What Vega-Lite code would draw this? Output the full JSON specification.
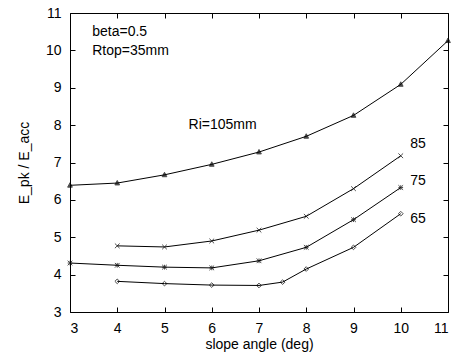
{
  "$schema": "https://vega.github.io/schema/vega-lite/v6.json",
  "autosize": {"type": "none"},
  "padding": {"left": 70, "top": 13, "right": 5, "bottom": 40},
  "width": 378,
  "height": 299,
  "background": "white",
  "config": {
    "font": "Liberation Sans",
    "view": {"stroke": "black", "strokeWidth": 1},
    "axis": {"grid": false, "domainColor": "black", "tickColor": "black", "labelColor": "black", "titleColor": "black", "labelFont": "Liberation Sans", "titleFont": "Liberation Sans", "labelFontSize": 14, "titleFontSize": 14, "titleFontWeight": "normal"}
  },
  "datasets": {
    "curves": [
      {"s": "105", "x": 3, "y": 6.39}, {"s": "105", "x": 4, "y": 6.45}, {"s": "105", "x": 5, "y": 6.67}, {"s": "105", "x": 6, "y": 6.95}, {"s": "105", "x": 7, "y": 7.28}, {"s": "105", "x": 8, "y": 7.70}, {"s": "105", "x": 9, "y": 8.26}, {"s": "105", "x": 10, "y": 9.09}, {"s": "105", "x": 11, "y": 10.26},
      {"s": "85", "x": 4, "y": 4.77}, {"s": "85", "x": 5, "y": 4.74}, {"s": "85", "x": 6, "y": 4.90}, {"s": "85", "x": 7, "y": 5.19}, {"s": "85", "x": 8, "y": 5.56}, {"s": "85", "x": 9, "y": 6.30}, {"s": "85", "x": 10, "y": 7.18},
      {"s": "75", "x": 3, "y": 4.31}, {"s": "75", "x": 4, "y": 4.25}, {"s": "75", "x": 5, "y": 4.20}, {"s": "75", "x": 6, "y": 4.18}, {"s": "75", "x": 7, "y": 4.37}, {"s": "75", "x": 8, "y": 4.73}, {"s": "75", "x": 9, "y": 5.47}, {"s": "75", "x": 10, "y": 6.33},
      {"s": "65", "x": 4, "y": 3.82}, {"s": "65", "x": 5, "y": 3.76}, {"s": "65", "x": 6, "y": 3.72}, {"s": "65", "x": 7, "y": 3.71}, {"s": "65", "x": 7.5, "y": 3.80}, {"s": "65", "x": 8, "y": 4.15}, {"s": "65", "x": 9, "y": 4.73}, {"s": "65", "x": 10, "y": 5.63}
    ],
    "notes": [
      {"x": 3.47, "y": 10.48, "t": "beta=0.5"},
      {"x": 3.47, "y": 9.98, "t": "Rtop=35mm"},
      {"x": 5.51, "y": 8.0, "t": "Ri=105mm"},
      {"x": 10.2, "y": 7.49, "t": "85"},
      {"x": 10.2, "y": 6.5, "t": "75"},
      {"x": 10.2, "y": 5.5, "t": "65"}
    ]
  },
  "layer": [
    {
      "data": {"name": "curves"},
      "mark": {"type": "line", "color": "black", "strokeWidth": 1},
      "encoding": {
        "x": {"field": "x", "type": "quantitative", "scale": {"domain": [3, 11], "nice": false, "zero": false}, "axis": {"title": "slope angle (deg)", "values": [3,4,5,6,7,8,9,10,11], "tickSize": -5, "labelPadding": 14, "titlePadding": 2, "domain": false}},
        "y": {"field": "y", "type": "quantitative", "scale": {"domain": [3, 11], "nice": false, "zero": false}, "axis": {"title": "E_pk / E_acc", "values": [3,4,5,6,7,8,9,10,11], "tickSize": -5, "labelPadding": 14, "titlePadding": 14, "domain": false}},
        "detail": {"field": "s"}
      }
    },
    {
      "data": {"name": "curves"},
      "mark": {"type": "point", "color": "black", "strokeWidth": 1, "size": 22},
      "encoding": {
        "x": {"field": "x", "type": "quantitative", "axis": {"orient": "top", "labels": false, "title": null, "values": [3,4,5,6,7,8,9,10,11], "tickSize": -5, "domain": false}},
        "y": {"field": "y", "type": "quantitative", "axis": {"orient": "right", "labels": false, "title": null, "values": [3,4,5,6,7,8,9,10,11], "tickSize": -5, "domain": false}},
        "shape": {"field": "s", "type": "nominal", "legend": null, "scale": {"domain": ["105", "85", "75", "65"], "range": ["M0,-1.1L1,0.8L-1,0.8Z", "M-1,-1L1,1M-1,1L1,-1", "M-1,-1L1,1M-1,1L1,-1M-1,0L1,0M0,-1L0,1", "M0,-1L1,0L0,1L-1,0Z"]}},
        "fill": {"field": "s", "type": "nominal", "legend": null, "scale": {"domain": ["105", "85", "75", "65"], "range": ["black", "transparent", "black", "transparent"]}}
      }
    },
    {
      "data": {"name": "notes"},
      "mark": {"type": "text", "align": "left", "baseline": "middle", "font": "Liberation Sans", "fontSize": 14, "color": "black"},
      "encoding": {
        "x": {"field": "x", "type": "quantitative", "axis": null},
        "y": {"field": "y", "type": "quantitative", "axis": null},
        "text": {"field": "t"}
      }
    }
  ],
  "resolve": {"axis": {"x": "independent", "y": "independent"}}
}
